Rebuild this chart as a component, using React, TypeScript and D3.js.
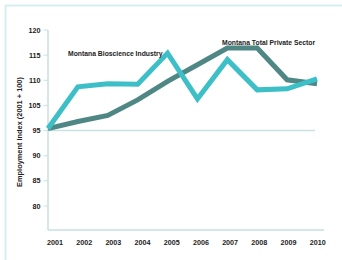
import * as d3 from "d3";

const years = ["2001", "2002", "2003", "2004", "2005", "2006", "2007", "2008", "2009", "2010"];
const bioscience = [100.4, 108.7, 109.3, 109.2, 115.4, 106.3, 114.1, 108.1, 108.3, 110.3];
const privateSector = [100.4, 101.8, 103.0, 106.1, 109.8, 113.1, 116.4, 116.4, 110.1, 109.3];
const tickValues = [120, 115, 110, 105, 100, 95, 90, 85];
const tickLabels = ["120", "115", "110", "105", "95", "90", "85", "80"];

const W = 342;
const H = 260;
const font = "'Liberation Sans', Arial, sans-serif";
const axisColor = "#c9dfe0";

export default function App() {
  const x = d3.scalePoint<string>().domain(years).range([48, 317]);
  const y = d3.scaleLinear().domain([85, 120]).range([206, 30]);

  const line = d3
    .line<number>()
    .x((_, i) => x(years[i]) as number)
    .y((d) => y(d));

  return (
    <svg
      width={W}
      height={H}
      style={{ position: "absolute", left: 0, top: 0, background: "#fff" }}
    >
      {/* frame */}
      <line x1={5.5} y1={5} x2={5.5} y2={H} stroke="#d6eef0" strokeWidth={2} />
      <line x1={5} y1={5.5} x2={W} y2={5.5} stroke="#d6eef0" strokeWidth={2} />

      {/* axes */}
      <line x1={48} y1={y(120)} x2={48} y2={230} stroke={axisColor} strokeWidth={1.5} />
      <line x1={48} y1={230} x2={324} y2={230} stroke={axisColor} strokeWidth={1.5} />
      <line x1={48} y1={y(100)} x2={315} y2={y(100)} stroke={axisColor} strokeWidth={1.5} />

      {tickValues.map((t, i) => (
        <g key={t}>
          <line x1={43.5} x2={48} y1={y(t)} y2={y(t)} stroke={axisColor} strokeWidth={1} />
          <text
            x={40.5}
            y={y(t) + 2.5}
            textAnchor="end"
            fontFamily={font}
            fontWeight="bold"
            fontSize={7.2}
            fill="#222"
          >
            {tickLabels[i]}
          </text>
        </g>
      ))}

      {years.map((yr, i) => (
        <text
          key={yr}
          x={(x(yr) as number) + 7 - i * 0.7}
          y={245}
          textAnchor="middle"
          fontFamily={font}
          fontWeight="bold"
          fontSize={7.2}
          fill="#222"
        >
          {yr}
        </text>
      ))}

      <text
        transform={`translate(21.5,132) rotate(-90)`}
        textAnchor="middle"
        fontFamily={font}
        fontWeight="bold"
        fontSize={7.4}
        fill="#222"
      >
        Employment Index (2001 + 100)
      </text>

      {/* series */}
      <path
        d={line(privateSector) || ""}
        fill="none"
        stroke="#4f8785"
        strokeWidth={5}
        strokeLinejoin="miter"
      />
      <path
        d={line(bioscience) || ""}
        fill="none"
        stroke="#3cbfc7"
        strokeWidth={5}
        strokeLinejoin="miter"
      />

      <text x={68} y={55.5} fontFamily={font} fontWeight="bold" fontSize={6.8} fill="#222">
        Montana Bioscience Industry
      </text>
      <text x={222} y={44.5} fontFamily={font} fontWeight="bold" fontSize={6.8} fill="#222">
        Montana Total Private Sector
      </text>
    </svg>
  );
}
